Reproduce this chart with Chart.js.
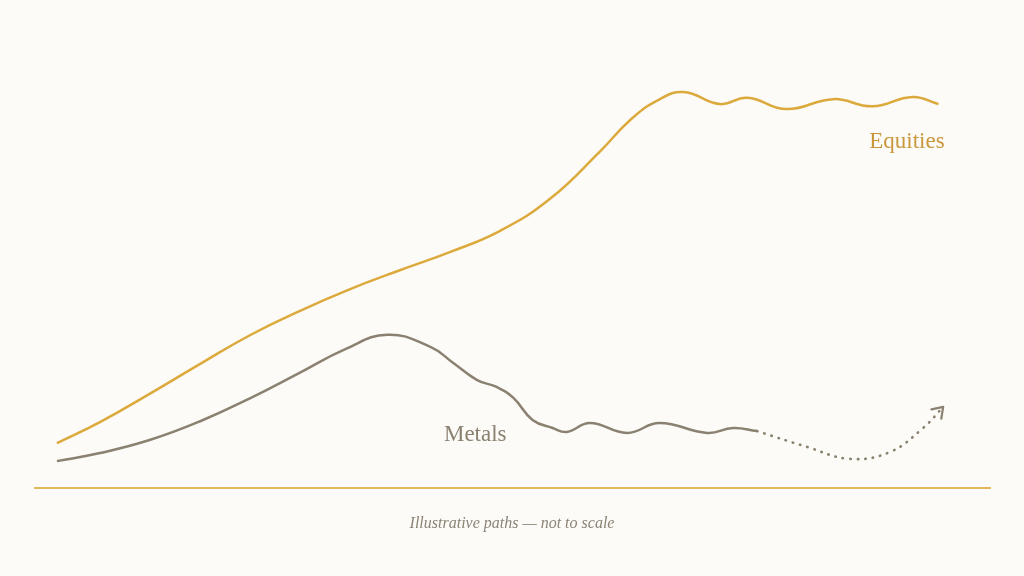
<!DOCTYPE html>
<html>
<head>
<meta charset="utf-8">
<script src="https://cdn.jsdelivr.net/npm/chart.js@4"></script>
<style>
html,body{margin:0;padding:0;background:#fcfbf8;}
#wrap{width:1024px;height:576px;position:relative;}
</style>
</head>
<body>
<div id="wrap"><canvas id="c" width="1024" height="576"></canvas></div>
<script>
// Illustrative paths (arbitrary units)
const equitiesX = [2.3, 6.8, 12.0, 17.3, 22.5, 27.7, 33.0, 38.2, 43.5, 48.7, 53.9, 59.2, 62.3, 65.1, 67.9, 71.7, 74.6, 78.7, 83.6, 87.7, 91.9, 94.6];
const equitiesY = [10.0, 14.7, 21.0, 27.7, 34.1, 39.5, 44.4, 48.6, 52.7, 57.4, 64.5, 75.2, 82.1, 86.4, 88.4, 85.7, 87.1, 84.6, 86.8, 85.2, 87.3, 85.7];

const metalsX = [2.3, 6.8, 12.0, 17.3, 22.5, 27.7, 32.5, 36.9, 41.4, 43.8, 46.3, 48.4, 50.1, 52.1, 54.2, 55.7, 58.1, 62.0, 65.4, 70.4, 73.1, 75.6];
const metalsY = [6.0, 7.8, 10.7, 14.9, 20.0, 25.7, 31.0, 34.2, 31.5, 27.9, 24.1, 22.5, 20.1, 15.2, 13.4, 12.5, 14.5, 12.3, 14.5, 12.3, 13.4, 12.7];

const outlookX = [75.6, 80.8, 85.3, 89.5, 93.0, 95.1];
const outlookY = [12.7, 9.2, 6.5, 8.0, 13.4, 18.1];

const seriesLabels = ['Equities', 'Metals'];
const caption = 'Illustrative paths — not to scale';

const GOLD = '#dcaa3c';
const GOLD_TEXT = '#c9983c';
const METAL = '#8b8170';
const toPts = (xs, ys) => xs.map((x, i) => ({x, y: ys[i]}));

const decor = {
  id: 'decor',
  beforeDraw(chart) {
    const ctx = chart.ctx;
    ctx.save();
    ctx.fillStyle = '#fcfbf8';
    ctx.fillRect(0, 0, chart.width, chart.height);
    ctx.restore();
  },
  afterDraw(chart) {
    const ctx = chart.ctx;
    const xs = chart.scales.x, ys = chart.scales.y;
    ctx.save();
    // arrow head at end of outlook path
    const n = outlookX.length;
    const x1 = xs.getPixelForValue(outlookX[n - 1]), y1 = ys.getPixelForValue(outlookY[n - 1]);
    const x0 = xs.getPixelForValue(outlookX[n - 2]), y0 = ys.getPixelForValue(outlookY[n - 2]);
    const ang = Math.atan2(y1 - y0, x1 - x0);
    const L = 12;
    ctx.strokeStyle = METAL;
    ctx.lineWidth = 2.2;
    ctx.lineCap = 'round';
    ctx.lineJoin = 'round';
    ctx.beginPath();
    ctx.moveTo(x1 - L * Math.cos(ang - 0.6), y1 - L * Math.sin(ang - 0.6));
    ctx.lineTo(x1, y1);
    ctx.lineTo(x1 - L * Math.cos(ang + 0.6), y1 - L * Math.sin(ang + 0.6));
    ctx.stroke();

    // series labels
    ctx.textAlign = 'center';
    ctx.textBaseline = 'middle';
    ctx.font = '23px "Liberation Serif", serif';
    ctx.fillStyle = GOLD_TEXT;
    ctx.fillText(seriesLabels[0], xs.getPixelForValue(91.3), ys.getPixelForValue(77.3));
    ctx.fillStyle = METAL;
    ctx.fillText(seriesLabels[1], xs.getPixelForValue(46.1), ys.getPixelForValue(11.9));

    // caption
    ctx.font = 'italic 16px "Liberation Serif", serif';
    ctx.fillStyle = '#8b8374';
    ctx.fillText(caption, chart.width / 2, 523.5);
    ctx.restore();
  }
};

new Chart(document.getElementById('c'), {
  type: 'line',
  data: {
    datasets: [
      {label: seriesLabels[0], data: toPts(equitiesX, equitiesY), borderColor: GOLD, borderWidth: 2.5, pointRadius: 0, tension: 0.45, fill: false},
      {label: seriesLabels[1], data: toPts(metalsX, metalsY), borderColor: METAL, borderWidth: 2.5, pointRadius: 0, tension: 0.45, fill: false},
      {label: 'Outlook', data: toPts(outlookX, outlookY), borderColor: METAL, borderWidth: 2.6, borderDash: [0.5, 7], borderCapStyle: 'round', pointRadius: 0, tension: 0.4, fill: false}
    ]
  },
  options: {
    responsive: false,
    animation: false,
    events: [],
    layout: {padding: {left: 35, right: 34, top: 40, bottom: 88}},
    plugins: {legend: {display: false}, tooltip: {enabled: false}, title: {display: false}},
    scales: {
      x: {type: 'linear', min: 0, max: 100, display: true, ticks: {display: false}, grid: {display: false, drawTicks: false}, border: {display: true, color: '#e3b65c', width: 2}},
      y: {type: 'linear', min: 0, max: 100, display: false}
    }
  },
  plugins: [decor]
});
</script>
</body>
</html>
